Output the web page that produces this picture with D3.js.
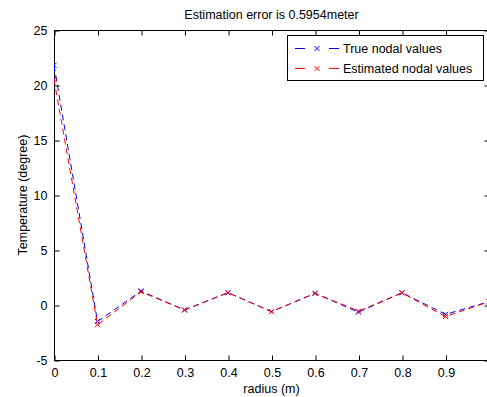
<!DOCTYPE html>
<html>
<head>
<meta charset="utf-8">
<script src="https://cdn.jsdelivr.net/npm/d3@7/dist/d3.min.js"></script>
<style>
  html, body { margin: 0; padding: 0; background: #fff; overflow: hidden; }
  svg { display: block; font-family: "Liberation Sans", Arial, sans-serif; }
</style>
</head>
<body>
<svg id="chart" width="487" height="397"></svg>
<script>
// Node positions along the radius and temperatures at each node
const radius = [0, 0.1, 0.2, 0.3, 0.4, 0.5, 0.6, 0.7, 0.8, 0.9, 1.0];
const trueValues = [21.8, -1.5, 1.27, -0.45, 1.12, -0.6, 1.06, -0.65, 1.12, -0.85, 0.3];
const estimatedValues = [20.5, -1.8, 1.2, -0.45, 1.12, -0.6, 1.06, -0.55, 1.1, -1.05, 0.3];
const xTicks = [0, 0.1, 0.2, 0.3, 0.4, 0.5, 0.6, 0.7, 0.8, 0.9, 1.0];
const yTicks = [-5, 0, 5, 10, 15, 20, 25];
const seriesNames = ["True nodal values", "Estimated nodal values"];
const seriesColors = ["#0000ff", "#ff0000"];
const titleText = "Estimation error is 0.5954meter";

const svg = d3.select("#chart");
const plotLeft = 54, plotRight = 489, plotTop = 30, plotBottom = 360;

const x = d3.scaleLinear().domain([0, 1]).range([plotLeft, plotRight]);
const y = d3.scaleLinear().domain([-5, 25]).range([plotBottom, plotTop]);

const fontSize = 12.5;

// axes box
svg.append("rect")
  .attr("x", plotLeft + 0.5).attr("y", plotTop + 0.5)
  .attr("width", plotRight - plotLeft).attr("height", plotBottom - plotTop)
  .attr("fill", "#fff").attr("stroke", "#000").attr("stroke-width", 1);

const tickLen = 5;
// bottom axis with inward ticks
const xAxis = d3.axisBottom(x).tickValues(xTicks).tickSize(-tickLen).tickPadding(tickLen + 3)
  .tickFormat(d => d >= 1 ? "" : String(+d.toFixed(1)));
const gx = svg.append("g").attr("transform", `translate(0.5,${plotBottom + 0.5})`).call(xAxis);
// top axis ticks
const gxt = svg.append("g").attr("transform", `translate(0.5,${plotTop + 0.5})`)
  .call(d3.axisTop(x).tickValues(xTicks).tickSize(-tickLen).tickFormat(""));
// left axis, plain hyphen for negative labels
const yAxis = d3.axisLeft(y).tickValues(yTicks).tickSize(-tickLen).tickPadding(tickLen + 2)
  .tickFormat(d => String(d));
const gy = svg.append("g").attr("transform", `translate(${plotLeft + 0.5},0.5)`).call(yAxis);
// right axis ticks
const gyr = svg.append("g").attr("transform", `translate(${plotRight + 0.5},0.5)`)
  .call(d3.axisRight(y).tickValues(yTicks).tickSize(-tickLen).tickFormat(""));

[gx, gxt, gy, gyr].forEach(g => {
  g.select(".domain").remove();
  g.selectAll("line").attr("stroke", "#000");
  g.selectAll("text").attr("fill", "#000").style("font-size", fontSize + "px")
    .style("font-family", "'Liberation Sans', Arial, sans-serif");
});

// clip region for the data lines
svg.append("defs").append("clipPath").attr("id", "plotClip")
  .append("rect").attr("x", plotLeft).attr("y", plotTop)
  .attr("width", plotRight - plotLeft + 1).attr("height", plotBottom - plotTop + 1);

const line = d3.line().x(d => x(d[0])).y(d => y(d[1]));

function drawMarker(g, cx, cy, color) {
  const s = 2.5;
  g.append("path")
    .attr("d", `M${cx - s},${cy - s}L${cx + s},${cy + s}M${cx - s},${cy + s}L${cx + s},${cy - s}`)
    .attr("stroke", color).attr("stroke-width", 1).attr("fill", "none");
}

const series = [trueValues, estimatedValues];
const plot = svg.append("g").attr("clip-path", "url(#plotClip)");
series.forEach((vals, i) => {
  const pts = radius.map((r, j) => [r, vals[j]]);
  plot.append("path")
    .attr("d", line(pts))
    .attr("fill", "none")
    .attr("stroke", seriesColors[i])
    .attr("stroke-width", 1)
    .attr("stroke-dasharray", "6,4");
  pts.forEach(p => drawMarker(plot, x(p[0]), y(p[1]), seriesColors[i]));
});

// title and axis labels
svg.append("text")
  .attr("x", (plotLeft + plotRight) / 2).attr("y", 19)
  .attr("text-anchor", "middle").style("font-size", fontSize + "px")
  .text(titleText);

svg.append("text")
  .attr("x", (plotLeft + plotRight) / 2).attr("y", 393)
  .attr("text-anchor", "middle").style("font-size", fontSize + "px")
  .text("radius (m)");

svg.append("text")
  .attr("transform", `translate(27,${(plotTop + plotBottom) / 2}) rotate(-90)`)
  .attr("text-anchor", "middle").style("font-size", fontSize + "px")
  .text("Temperature (degree)");

// legend: dash, marker, dash sample followed by the series name
const lg = svg.append("g");
const lx = 287, ly = 35, lw = 196, lh = 45;
lg.append("rect").attr("x", lx + 0.5).attr("y", ly + 0.5).attr("width", lw).attr("height", lh)
  .attr("fill", "#fff").attr("stroke", "#000");
seriesNames.forEach((name, i) => {
  const yy = ly + 13.5 + i * 20;
  lg.append("line").attr("x1", lx + 8).attr("x2", lx + 52).attr("y1", yy).attr("y2", yy)
    .attr("stroke", seriesColors[i]).attr("stroke-dasharray", "10,24").attr("stroke-width", 1);
  drawMarker(lg, lx + 30, yy, seriesColors[i]);
  lg.append("text").attr("x", lx + 56).attr("y", yy + 4.5)
    .style("font-size", fontSize + "px").text(name);
});
</script>
</body>
</html>
